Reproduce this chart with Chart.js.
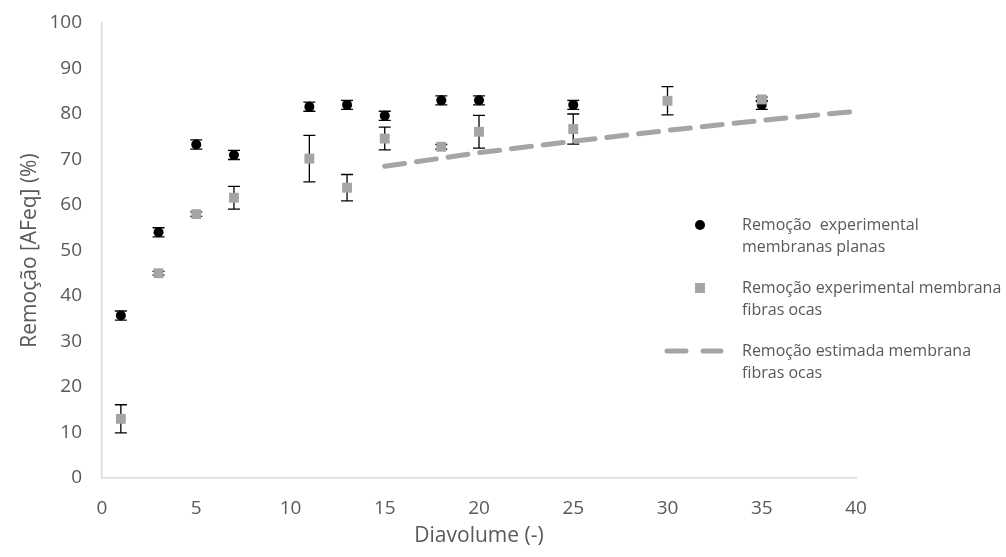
<!DOCTYPE html>
<html>
<head>
<meta charset="utf-8">
<script src="https://cdn.jsdelivr.net/npm/chart.js@4.4.1/dist/chart.umd.min.js"></script>
<style>
  body { margin: 0; background: #fff; }
  #wrap { width: 1006px; height: 557px; position: relative; }
</style>
</head>
<body>
<div id="wrap"><canvas id="chart"></canvas></div>
<script>
// Diavolume (x) values and measured removal (%)
const flatX = [1, 3, 5, 7, 11, 13, 15, 18, 20, 25, 35];
const flatY = [35.7, 54, 73.3, 71, 81.6, 82, 79.6, 83, 83, 82, 82];
const flatErr = [1, 1, 1, 1, 1, 1, 1, 1, 1, 1, 1];

const hollowX = [1, 3, 5, 7, 11, 13, 15, 18, 20, 25, 30, 35];
const hollowY = [13, 45, 58, 61.6, 70.2, 63.8, 74.6, 72.8, 76.1, 76.7, 82.9, 83.2];
const hollowErr = [3.1, 0.4, 0.5, 2.5, 5.1, 2.9, 2.5, 0.5, 3.6, 3.3, 3.1, 0.5];

const estX = [15, 20, 25, 30, 35, 40];
const estY = [68.5, 71.5, 74, 76.4, 78.6, 80.6];

const labels = [
  ['Remoção  experimental', 'membranas planas'],
  ['Remoção experimental membrana', 'fibras ocas'],
  ['Remoção estimada membrana', 'fibras ocas']
];

const toPts = (xs, ys) => xs.map((x, i) => ({ x: x, y: ys[i] }));
const FONT = '"Open Sans", sans-serif';

// **Error bars drawn under the markers**
const errorBars = {
  id: 'errorBars',
  beforeDatasetsDraw(chart) {
    const ctx = chart.ctx;
    const xs = chart.scales.x, ys = chart.scales.y;
    const sets = [[flatX, flatY, flatErr], [hollowX, hollowY, hollowErr]];
    ctx.save();
    ctx.strokeStyle = '#000';
    ctx.lineWidth = 1.3;
    sets.forEach(([X, Y, E]) => {
      X.forEach((x, i) => {
        const px = xs.getPixelForValue(x);
        const top = ys.getPixelForValue(Y[i] + E[i]);
        const bot = ys.getPixelForValue(Y[i] - E[i]);
        ctx.beginPath();
        ctx.moveTo(px, top); ctx.lineTo(px, bot);
        ctx.moveTo(px - 6, top); ctx.lineTo(px + 6, top);
        ctx.moveTo(px - 6, bot); ctx.lineTo(px + 6, bot);
        ctx.stroke();
      });
    });
    ctx.restore();
  }
};

// **Legend on the right, two lines per entry**
const sideLegend = {
  id: 'sideLegend',
  afterDraw(chart) {
    const ctx = chart.ctx;
    const cx = chart.chartArea.right - 156;
    const textX = cx + 42;
    const rows = [225, 288, 351];
    ctx.save();
    ctx.font = '16px ' + FONT;
    ctx.textBaseline = 'middle';
    ctx.fillStyle = '#595959';
    rows.forEach((y, i) => {
      ctx.fillText(labels[i][0], textX, y);
      ctx.fillText(labels[i][1], textX, y + 22);
    });
    ctx.fillStyle = '#000';
    ctx.beginPath(); ctx.arc(cx, rows[0], 5, 0, Math.PI * 2); ctx.fill();
    ctx.fillStyle = '#a5a5a5';
    ctx.fillRect(cx - 5, rows[1] - 5, 10, 10);
    ctx.strokeStyle = '#a5a5a5';
    ctx.lineWidth = 5;
    ctx.lineCap = 'round';
    ctx.beginPath();
    ctx.moveTo(cx - 33, rows[2]); ctx.lineTo(cx - 14, rows[2]);
    ctx.moveTo(cx + 3, rows[2]); ctx.lineTo(cx + 21, rows[2]);
    ctx.stroke();
    ctx.restore();
  }
};

new Chart(document.getElementById('chart'), {
  type: 'scatter',
  data: {
    datasets: [
      {
        label: 'Remoção estimada membrana fibras ocas',
        data: toPts(estX, estY),
        showLine: true,
        borderColor: '#a5a5a5',
        borderWidth: 5,
        borderDash: [20, 12],
        borderCapStyle: 'round',
        pointRadius: 0,
        order: 3
      },
      {
        label: 'Remoção experimental membrana fibras ocas',
        data: toPts(hollowX, hollowY),
        pointStyle: 'rect',
        pointRadius: 7,
        backgroundColor: '#a5a5a5',
        borderColor: '#a5a5a5',
        borderWidth: 0,
        order: 1
      },
      {
        label: 'Remoção experimental membranas planas',
        data: toPts(flatX, flatY),
        pointStyle: 'circle',
        pointRadius: 5,
        backgroundColor: '#000',
        borderColor: '#000',
        borderWidth: 0,
        order: 2
      }
    ]
  },
  options: {
    responsive: true,
    maintainAspectRatio: false,
    animation: false,
    layout: { padding: { top: 0, right: 150, bottom: 8, left: 17 } },
    plugins: { legend: { display: false }, tooltip: { enabled: false } },
    scales: {
      x: {
        type: 'linear', min: 0, max: 40,
        afterFit: (scale) => { scale.height = 71; },
        ticks: { stepSize: 5, color: '#595959', font: { family: FONT, size: 19 }, padding: 19 },
        grid: { display: false, drawTicks: false },
        border: { color: '#d9d9d9', width: 1.5 },
        title: { display: true, text: 'Diavolume (-)', color: '#595959', font: { family: FONT, size: 21 }, padding: { top: 4, bottom: 0 } }
      },
      y: {
        min: 0, max: 100,
        afterFit: (scale) => { scale.width = 85; scale.paddingTop = 23; },
        ticks: { stepSize: 10, color: '#595959', font: { family: FONT, size: 19 }, padding: 20 },
        grid: { display: false, drawTicks: false },
        border: { color: '#d9d9d9', width: 1.5 },
        title: { display: true, text: 'Remoção [AFeq] (%)', color: '#595959', font: { family: FONT, size: 21 }, padding: { top: 0, bottom: 2 } }
      }
    }
  },
  plugins: [errorBars, sideLegend]
});
</script>
</body>
</html>
